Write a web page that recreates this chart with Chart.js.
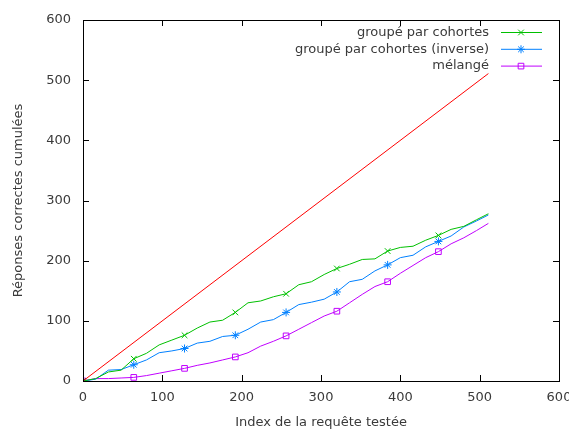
<!DOCTYPE html>
<html>
<head>
<meta charset="utf-8">
<script src="https://cdn.jsdelivr.net/npm/chart.js@4.4.1/dist/chart.umd.min.js"></script>
<style>
  html, body { margin: 0; padding: 0; background: #fff; }
  #wrap { width: 569px; height: 430px; }
</style>
</head>
<body>
<div id="wrap"><canvas id="myChart"></canvas></div>
<script>
// index des requêtes (axe x)
const indexes = [0, 16, 32, 48, 64, 80, 96, 112, 128, 144, 160, 176, 192, 208, 224, 240,
  256, 272, 288, 304, 320, 336, 352, 368, 384, 400, 416, 432, 448, 464, 480, 496, 511];

const groupe = [0, 4, 15, 18, 37, 46, 60, 68, 76, 88, 98, 101, 114, 130, 133, 140,
  145, 160, 165, 177, 187, 194, 202, 203, 216, 222, 224, 234, 242, 252, 257, 268, 278];

const groupeInverse = [0, 3, 18, 19, 27, 35, 47, 50, 54, 63, 66, 74, 76, 86, 98, 102,
  114, 127, 131, 136, 148, 165, 169, 183, 193, 205, 209, 223, 232, 241, 256, 266, 276];

const melange = [0, 4, 4, 5, 6, 9, 13, 17, 21, 26, 30, 35, 40, 47, 58, 66,
  75, 86, 97, 108, 116, 130, 144, 157, 165, 179, 192, 205, 215, 228, 238, 250, 262];

// droite idéale (toutes les réponses correctes)
const ideal = [0, 511];

const xTicks = [0, 100, 200, 300, 400, 500, 600];
const yTicks = [0, 100, 200, 300, 400, 500, 600];

const toPoints = (xs, ys) => xs.map((x, i) => ({ x: x, y: ys[i] }));

const TEXT = '#3a3a3a';
Chart.defaults.font.family = 'DejaVu Sans';
Chart.defaults.font.size = 13;
Chart.defaults.color = TEXT;

// marqueurs tous les 64
const markerRadius = c => (c.raw && c.raw.x % 64 === 0 ? 4 : 0);

// cadre + graduations vers l'intérieur, légende façon gnuplot
const gnuplotFrame = {
  id: 'gnuplotFrame',
  afterDraw(chart) {
    const { ctx, chartArea: a, scales } = chart;
    ctx.save();
    ctx.strokeStyle = '#000';
    ctx.lineWidth = 1;
    ctx.strokeRect(Math.round(a.left) + 0.5, Math.round(a.top) + 0.5,
      Math.round(a.right - a.left), Math.round(a.bottom - a.top));
    ctx.beginPath();
    xTicks.forEach(v => {
      const px = Math.round(scales.x.getPixelForValue(v)) + 0.5;
      ctx.moveTo(px, a.bottom); ctx.lineTo(px, a.bottom - 6);
      ctx.moveTo(px, a.top); ctx.lineTo(px, a.top + 6);
    });
    yTicks.forEach(v => {
      const py = Math.round(scales.y.getPixelForValue(v)) + 0.5;
      ctx.moveTo(a.left, py); ctx.lineTo(a.left + 6, py);
      ctx.moveTo(a.right, py); ctx.lineTo(a.right - 6, py);
    });
    ctx.stroke();

    // légende
    let y = 32.5;
    chart.data.datasets.forEach(ds => {
      if (!ds.label) return;
      ctx.fillStyle = TEXT;
      ctx.font = '13px "DejaVu Sans"';
      ctx.textAlign = 'right';
      ctx.textBaseline = 'middle';
      ctx.fillText(ds.label, 489, y);
      ctx.strokeStyle = ds.borderColor;
      ctx.lineWidth = 1;
      ctx.beginPath();
      ctx.moveTo(501, y); ctx.lineTo(542, y);
      ctx.stroke();
      ctx.fillStyle = 'rgba(0,0,0,0)';
      Chart.helpers.drawPoint(ctx, {
        pointStyle: ds.pointStyle, radius: 4, borderWidth: 1
      }, 521, y);
      y += 16.8;
    });
    ctx.restore();
  }
};

const ctx = document.getElementById('myChart').getContext('2d');
const myChart = new Chart(ctx, {
  type: 'line',
  data: {
    datasets: [
      {
        label: '',
        data: toPoints(ideal, ideal),
        borderColor: '#ff0000',
        borderWidth: 1,
        pointRadius: 0
      },
      {
        label: 'groupé par cohortes',
        data: toPoints(indexes, groupe),
        borderColor: '#00c000',
        backgroundColor: 'rgba(0,0,0,0)',
        borderWidth: 1,
        pointStyle: 'crossRot',
        pointRadius: markerRadius,
        pointBorderWidth: 1
      },
      {
        label: 'groupé par cohortes (inverse)',
        data: toPoints(indexes, groupeInverse),
        borderColor: '#0080ff',
        backgroundColor: 'rgba(0,0,0,0)',
        borderWidth: 1,
        pointStyle: 'star',
        pointRadius: markerRadius,
        pointBorderWidth: 1
      },
      {
        label: 'mélangé',
        data: toPoints(indexes, melange),
        borderColor: '#c000ff',
        backgroundColor: 'rgba(0,0,0,0)',
        borderWidth: 1,
        pointStyle: 'rect',
        pointRadius: markerRadius,
        pointBorderWidth: 1
      }
    ]
  },
  options: {
    responsive: true,
    maintainAspectRatio: false,
    animation: false,
    events: [],
    layout: { padding: { top: 20, right: 10, bottom: 0, left: 0 } },
    elements: { line: { tension: 0 } },
    plugins: {
      legend: { display: false },
      tooltip: { enabled: false }
    },
    scales: {
      x: {
        type: 'linear',
        min: 0,
        max: 600,
        afterBuildTicks: s => { s.ticks = xTicks.map(v => ({ value: v })); },
        afterFit: s => { s.height = 49; s.paddingLeft = 0; s.paddingRight = 0; },
        ticks: { padding: 9, color: TEXT, maxRotation: 0 },
        grid: { display: false, drawTicks: false },
        border: { display: false },
        title: {
          display: true,
          text: 'Index de la requête testée',
          color: TEXT,
          padding: { top: 0, bottom: 0 }
        }
      },
      y: {
        type: 'linear',
        min: 0,
        max: 600,
        afterBuildTicks: s => { s.ticks = yTicks.map(v => ({ value: v })); },
        afterFit: s => { s.width = 83; s.paddingTop = 0; s.paddingBottom = 0; },
        ticks: { padding: 12, color: TEXT },
        grid: { display: false, drawTicks: false },
        border: { display: false },
        title: {
          display: true,
          text: 'Réponses correctes cumulées',
          color: TEXT,
          padding: { top: 11, bottom: 0 }
        }
      }
    }
  },
  plugins: [gnuplotFrame]
});
</script>
</body>
</html>
